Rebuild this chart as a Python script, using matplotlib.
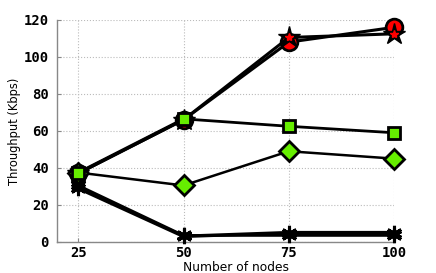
import numpy as np
import matplotlib
matplotlib.use('Agg')
import matplotlib.pyplot as plt

# data
nodes = [25, 50, 75, 100]
circ = [37, 66, 108, 116]
star = [37, 66, 110.5, 112.5]
sq = [37.5, 66.5, 62.5, 59]
dia = [37.5, 30.5, 49, 45]
ast1 = [29, 3, 5, 5]
ast2 = [30.5, 3.5, 3.5, 3.5]

xticks = [25, 50, 75, 100]
yticks = [0, 20, 40, 60, 80, 100, 120]

green = '#66ee00'
red = '#ff0000'

fig = plt.figure(figsize=(4.36, 2.73), dpi=100)
ax = fig.add_axes([0.131, 0.114, 0.773, 0.813])

ax.plot(nodes, ast2, '-', color='k', lw=2, marker=(6, 2, 0), ms=11, mew=2.2, clip_on=False, zorder=3)
ax.plot(nodes, ast1, '-', color='k', lw=2.5, marker=(6, 2, 0), ms=11, mew=2.2, clip_on=False, zorder=3)
ax.plot(nodes, circ, '-', color='k', lw=2.2, marker='o', ms=12, mfc=red, mec='k', mew=2, clip_on=False, zorder=4)
ax.plot(nodes, star, '-', color='k', lw=2.2, marker='*', ms=16, mfc='k', mec='k', mew=1, clip_on=False, zorder=5)
ax.plot(nodes, star, ls='none', marker='*', ms=6, mfc=red, mec=red, clip_on=False, zorder=5.5)
ax.plot(nodes, dia, '-', color='k', lw=1.8, marker='D', ms=10, mfc=green, mec='k', mew=2, clip_on=False, zorder=6)
ax.plot(nodes, sq, '-', color='k', lw=2, marker='s', ms=9, mfc=green, mec='k', mew=2, clip_on=False, zorder=7)

ax.set_xlim(20, 100)
ax.set_ylim(0, 120)
ax.set_xticks(xticks)
ax.set_yticks(yticks)
ax.grid(True, ls=':', color='#bbbbbb', lw=0.8)
ax.set_axisbelow(True)

for s in ['top', 'right']:
    ax.spines[s].set_visible(False)
for s in ['left', 'bottom']:
    ax.spines[s].set_color('#888888')
    ax.spines[s].set_linewidth(1)

ax.tick_params(direction='in', length=3, color='#888888')
ax.tick_params(axis='x', pad=3)
ax.tick_params(axis='y', pad=6)
for lab in ax.get_xticklabels() + ax.get_yticklabels():
    lab.set_fontfamily('DejaVu Sans Mono')
    lab.set_fontweight('bold')
    lab.set_fontsize(10)

ax.set_xlabel('Number of nodes', fontsize=8.8)
ax.xaxis.set_label_coords(0.53, -0.088)
ax.set_ylabel('Throughput (Kbps)', fontsize=8.3, labelpad=2)

fig.savefig('out.png', dpi=100)
